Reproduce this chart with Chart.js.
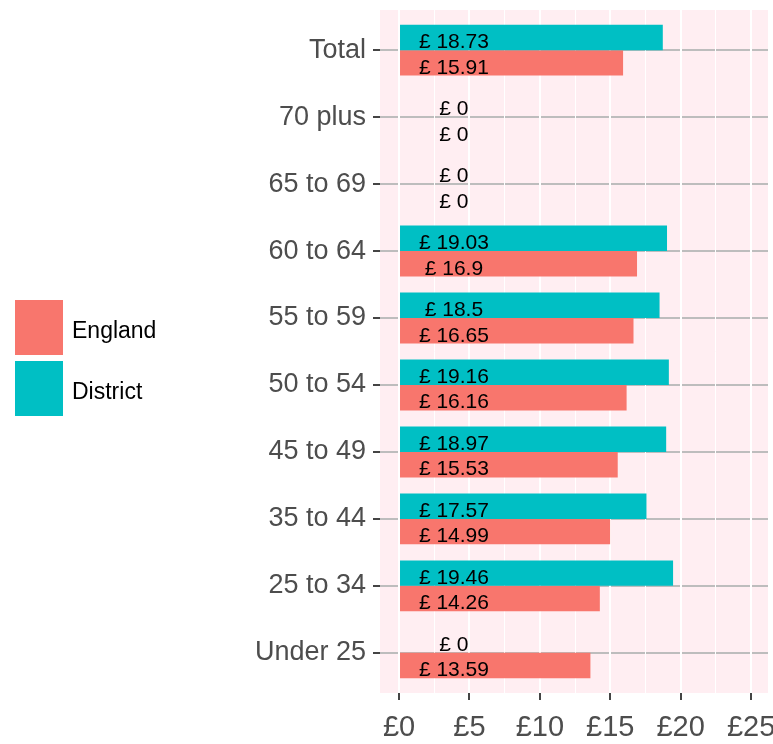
<!DOCTYPE html>
<html>
<head>
<meta charset="utf-8">
<script src="https://cdn.jsdelivr.net/npm/chart.js@4"></script>
<style>
  html, body { margin: 0; padding: 0; background: #ffffff; }
  #wrap { position: relative; width: 773px; height: 744px; }
</style>
</head>
<body>
<div id="wrap"><canvas id="chart" width="773" height="744"></canvas></div>
<script>
const CATEGORIES = ['Total', '70 plus', '65 to 69', '60 to 64', '55 to 59', '50 to 54', '45 to 49', '35 to 44', '25 to 34', 'Under 25'];
const DISTRICT = [18.73, 0, 0, 19.03, 18.5, 19.16, 18.97, 17.57, 19.46, 0];
const ENGLAND = [15.91, 0, 0, 16.9, 16.65, 16.16, 15.53, 14.99, 14.26, 13.59];
const X_TICKS = [0, 2.5, 5, 7.5, 10, 12.5, 15, 17.5, 20, 22.5, 25];

const FONT = "'Liberation Sans Narrow', 'Liberation Sans', Arial, sans-serif";
const COL_ENGLAND = '#F8766D';
const COL_DISTRICT = '#00BFC4';

function puntos(valores) {
  return valores.map((v, i) => ({ x: v, y: i }));
}

// fondo rosa del panel
const fondoPanel = {
  id: 'fondoPanel',
  beforeDraw(chart) {
    const { ctx, chartArea: a } = chart;
    ctx.save();
    ctx.fillStyle = '#FFEEF2';
    ctx.fillRect(a.left, a.top, a.right - a.left, a.bottom - a.top);
    ctx.restore();
  }
};

// etiquetas "£ x" dentro de las barras
const etiquetas = {
  id: 'etiquetas',
  afterDatasetsDraw(chart) {
    const ctx = chart.ctx;
    const xs = chart.scales.x;
    ctx.save();
    ctx.font = '21px ' + FONT;
    ctx.fillStyle = '#000000';
    ctx.textAlign = 'center';
    ctx.textBaseline = 'middle';
    chart.data.datasets.forEach((ds, di) => {
      chart.getDatasetMeta(di).data.forEach((bar, i) => {
        ctx.fillText('£ ' + ds.data[i].x, xs.getPixelForValue(3.9), bar.y + 5);
      });
    });
    ctx.restore();
  }
};

// leyenda a la izquierda
const leyenda = {
  id: 'leyenda',
  afterDraw(chart) {
    const ctx = chart.ctx;
    const items = [['England', COL_ENGLAND, 300], ['District', COL_DISTRICT, 361]];
    ctx.save();
    ctx.font = '23px ' + FONT;
    ctx.textBaseline = 'middle';
    items.forEach(([txt, col, y]) => {
      ctx.fillStyle = col;
      ctx.fillRect(15, y, 48, 55);
      ctx.fillStyle = '#000000';
      ctx.fillText(txt, 72, y + 32);
    });
    ctx.restore();
  }
};

new Chart(document.getElementById('chart'), {
  type: 'bar',
  data: {
    datasets: [
      { label: 'District', data: puntos(DISTRICT), backgroundColor: COL_DISTRICT },
      { label: 'England', data: puntos(ENGLAND), backgroundColor: COL_ENGLAND }
    ]
  },
  options: {
    responsive: false,
    animation: false,
    indexAxis: 'y',
    layout: { padding: { left: 200, top: 10, right: 5, bottom: 0 } },
    datasets: { bar: { categoryPercentage: 0.76, barPercentage: 1.0 } },
    plugins: { legend: { display: false }, tooltip: { enabled: false } },
    scales: {
      y: {
        type: 'linear',
        reverse: true,
        offset: false,
        min: -0.6,
        max: 9.6,
        afterBuildTicks: s => { s.ticks = CATEGORIES.map((c, i) => ({ value: i })); },
        afterFit: s => { s.width = 180; s.paddingTop = 0; s.paddingBottom = 0; },
        border: { display: false },
        grid: { offset: false, color: '#BDBDBD', lineWidth: 2, tickColor: '#444444', tickLength: 7, z: -2 },
        ticks: {
          callback: v => CATEGORIES[v],
          font: { family: FONT, size: 27 },
          color: '#4D4D4D',
          padding: 7
        }
      },
      x: {
        type: 'linear',
        min: -1.35,
        max: 26.2,
        afterBuildTicks: s => { s.ticks = X_TICKS.map(v => ({ value: v })); },
        afterFit: s => { s.height = 51; s.paddingLeft = 0; s.paddingRight = 0; },
        border: { display: false },
        grid: {
          color: '#FFFFFF',
          lineWidth: c => (c.tick && c.tick.value % 5 === 0 ? 2 : 1),
          tickColor: c => (c.tick && c.tick.value % 5 === 0 ? '#444444' : 'rgba(0,0,0,0)'),
          tickLength: 7,
          z: -1
        },
        ticks: {
          callback: v => (v % 5 === 0 ? '£' + v : ''),
          font: { family: FONT, size: 29 },
          color: '#4D4D4D',
          padding: 11,
          maxRotation: 0,
          autoSkip: false
        }
      }
    }
  },
  plugins: [fondoPanel, etiquetas, leyenda]
});
</script>
</body>
</html>
